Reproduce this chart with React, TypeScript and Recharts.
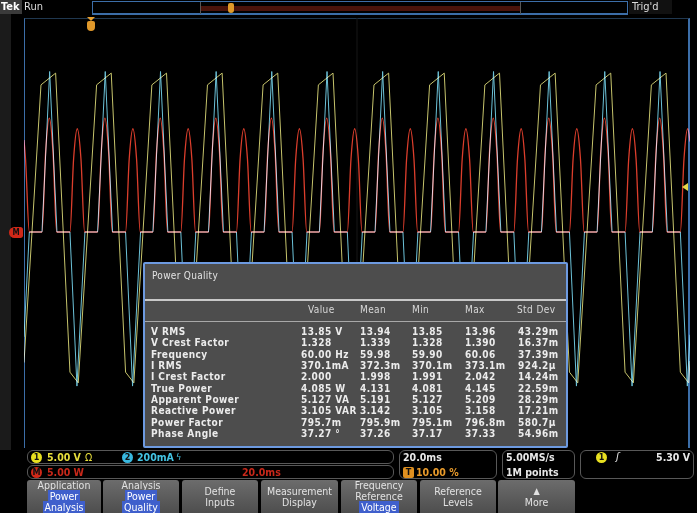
import React from 'react';
import { LineChart, Line, XAxis, YAxis, ReferenceLine } from 'recharts';

// time in ms from the left edge of the graticule (20 ms/div, 10 div), amplitude in divisions
const ch1Voltage = [
  { t: 0, v: -2.44 },
  { t: 5.1, v: 2.75 }, { t: 9.5, v: 2.97 }, { t: 13.8, v: -2.62 }, { t: 16.3, v: -2.82 },
  { t: 21.8, v: 2.75 }, { t: 26.2, v: 2.97 }, { t: 30.5, v: -2.62 }, { t: 33.0, v: -2.82 },
  { t: 38.4, v: 2.75 }, { t: 42.8, v: 2.97 }, { t: 47.1, v: -2.62 }, { t: 49.6, v: -2.82 },
  { t: 55.1, v: 2.75 }, { t: 59.5, v: 2.97 }, { t: 63.8, v: -2.62 }, { t: 66.3, v: -2.82 },
  { t: 71.8, v: 2.75 }, { t: 76.2, v: 2.97 }, { t: 80.5, v: -2.62 }, { t: 83.0, v: -2.82 },
  { t: 88.4, v: 2.75 }, { t: 92.8, v: 2.97 }, { t: 97.1, v: -2.62 }, { t: 99.6, v: -2.82 },
  { t: 105.1, v: 2.75 }, { t: 109.5, v: 2.97 }, { t: 113.8, v: -2.62 }, { t: 116.3, v: -2.82 },
  { t: 121.8, v: 2.75 }, { t: 126.2, v: 2.97 }, { t: 130.5, v: -2.62 }, { t: 133.0, v: -2.82 },
  { t: 138.4, v: 2.75 }, { t: 142.8, v: 2.97 }, { t: 147.1, v: -2.62 }, { t: 149.6, v: -2.82 },
  { t: 155.1, v: 2.75 }, { t: 159.5, v: 2.97 }, { t: 163.8, v: -2.62 }, { t: 166.3, v: -2.82 },
  { t: 171.8, v: 2.75 }, { t: 176.2, v: 2.97 }, { t: 180.5, v: -2.62 }, { t: 183.0, v: -2.82 },
  { t: 188.4, v: 2.75 }, { t: 192.8, v: 2.97 }, { t: 197.1, v: -2.62 }, { t: 199.6, v: -2.82 },
  { t: 200, v: -2.41 },
];

const ch2Current = [
  { t: 0, v: -1.96 }, { t: 1.6, v: 0 },
  { t: 5.4, v: 0 }, { t: 7.7, v: 3.0 }, { t: 9.9, v: 0 }, { t: 13.8, v: 0 }, { t: 15.9, v: -2.88 }, { t: 18.3, v: 0 },
  { t: 22.1, v: 0 }, { t: 24.4, v: 3.0 }, { t: 26.6, v: 0 }, { t: 30.5, v: 0 }, { t: 32.6, v: -2.88 }, { t: 35.0, v: 0 },
  { t: 38.7, v: 0 }, { t: 41.0, v: 3.0 }, { t: 43.2, v: 0 }, { t: 47.1, v: 0 }, { t: 49.2, v: -2.88 }, { t: 51.6, v: 0 },
  { t: 55.4, v: 0 }, { t: 57.7, v: 3.0 }, { t: 59.9, v: 0 }, { t: 63.8, v: 0 }, { t: 65.9, v: -2.88 }, { t: 68.3, v: 0 },
  { t: 72.1, v: 0 }, { t: 74.4, v: 3.0 }, { t: 76.6, v: 0 }, { t: 80.5, v: 0 }, { t: 82.6, v: -2.88 }, { t: 85.0, v: 0 },
  { t: 88.7, v: 0 }, { t: 91.0, v: 3.0 }, { t: 93.2, v: 0 }, { t: 97.1, v: 0 }, { t: 99.2, v: -2.88 }, { t: 101.6, v: 0 },
  { t: 105.4, v: 0 }, { t: 107.7, v: 3.0 }, { t: 109.9, v: 0 }, { t: 113.8, v: 0 }, { t: 115.9, v: -2.88 }, { t: 118.3, v: 0 },
  { t: 122.1, v: 0 }, { t: 124.4, v: 3.0 }, { t: 126.6, v: 0 }, { t: 130.5, v: 0 }, { t: 132.6, v: -2.88 }, { t: 135.0, v: 0 },
  { t: 138.7, v: 0 }, { t: 141.0, v: 3.0 }, { t: 143.2, v: 0 }, { t: 147.1, v: 0 }, { t: 149.2, v: -2.88 }, { t: 151.6, v: 0 },
  { t: 155.4, v: 0 }, { t: 157.7, v: 3.0 }, { t: 159.9, v: 0 }, { t: 163.8, v: 0 }, { t: 165.9, v: -2.88 }, { t: 168.3, v: 0 },
  { t: 172.1, v: 0 }, { t: 174.4, v: 3.0 }, { t: 176.6, v: 0 }, { t: 180.5, v: 0 }, { t: 182.6, v: -2.88 }, { t: 185.0, v: 0 },
  { t: 188.7, v: 0 }, { t: 191.0, v: 3.0 }, { t: 193.2, v: 0 }, { t: 197.1, v: 0 }, { t: 199.2, v: -2.88 }, { t: 200, v: -1.92 },
];

const mathPower = [
  { t: 0, v: 1.72 }, { t: 0.45, v: 1.37 }, { t: 1.6, v: 0 },
  { t: 5.4, v: 0 }, { t: 6.5, v: 1.5 }, { t: 7.6, v: 2.13 }, { t: 8.7, v: 1.5 }, { t: 9.8, v: 0 },
  { t: 13.8, v: 0 }, { t: 14.9, v: 1.37 }, { t: 16.0, v: 1.93 }, { t: 17.1, v: 1.37 }, { t: 18.2, v: 0 },
  { t: 22.1, v: 0 }, { t: 23.2, v: 1.5 }, { t: 24.3, v: 2.13 }, { t: 25.4, v: 1.5 }, { t: 26.5, v: 0 },
  { t: 30.5, v: 0 }, { t: 31.6, v: 1.37 }, { t: 32.7, v: 1.93 }, { t: 33.8, v: 1.37 }, { t: 34.9, v: 0 },
  { t: 38.7, v: 0 }, { t: 39.8, v: 1.5 }, { t: 40.9, v: 2.13 }, { t: 42.0, v: 1.5 }, { t: 43.1, v: 0 },
  { t: 47.1, v: 0 }, { t: 48.2, v: 1.37 }, { t: 49.3, v: 1.93 }, { t: 50.4, v: 1.37 }, { t: 51.5, v: 0 },
  { t: 55.4, v: 0 }, { t: 56.5, v: 1.5 }, { t: 57.6, v: 2.13 }, { t: 58.7, v: 1.5 }, { t: 59.8, v: 0 },
  { t: 63.8, v: 0 }, { t: 64.9, v: 1.37 }, { t: 66.0, v: 1.93 }, { t: 67.1, v: 1.37 }, { t: 68.2, v: 0 },
  { t: 72.1, v: 0 }, { t: 73.2, v: 1.5 }, { t: 74.3, v: 2.13 }, { t: 75.4, v: 1.5 }, { t: 76.5, v: 0 },
  { t: 80.5, v: 0 }, { t: 81.6, v: 1.37 }, { t: 82.7, v: 1.93 }, { t: 83.8, v: 1.37 }, { t: 84.9, v: 0 },
  { t: 88.7, v: 0 }, { t: 89.8, v: 1.5 }, { t: 90.9, v: 2.13 }, { t: 92.0, v: 1.5 }, { t: 93.1, v: 0 },
  { t: 97.1, v: 0 }, { t: 98.2, v: 1.37 }, { t: 99.3, v: 1.93 }, { t: 100.4, v: 1.37 }, { t: 101.5, v: 0 },
  { t: 105.4, v: 0 }, { t: 106.5, v: 1.5 }, { t: 107.6, v: 2.13 }, { t: 108.7, v: 1.5 }, { t: 109.8, v: 0 },
  { t: 113.8, v: 0 }, { t: 114.9, v: 1.37 }, { t: 116.0, v: 1.93 }, { t: 117.1, v: 1.37 }, { t: 118.2, v: 0 },
  { t: 122.1, v: 0 }, { t: 123.2, v: 1.5 }, { t: 124.3, v: 2.13 }, { t: 125.4, v: 1.5 }, { t: 126.5, v: 0 },
  { t: 130.5, v: 0 }, { t: 131.6, v: 1.37 }, { t: 132.7, v: 1.93 }, { t: 133.8, v: 1.37 }, { t: 134.9, v: 0 },
  { t: 138.7, v: 0 }, { t: 139.8, v: 1.5 }, { t: 140.9, v: 2.13 }, { t: 142.0, v: 1.5 }, { t: 143.1, v: 0 },
  { t: 147.1, v: 0 }, { t: 148.2, v: 1.37 }, { t: 149.3, v: 1.93 }, { t: 150.4, v: 1.37 }, { t: 151.5, v: 0 },
  { t: 155.4, v: 0 }, { t: 156.5, v: 1.5 }, { t: 157.6, v: 2.13 }, { t: 158.7, v: 1.5 }, { t: 159.8, v: 0 },
  { t: 163.8, v: 0 }, { t: 164.9, v: 1.37 }, { t: 166.0, v: 1.93 }, { t: 167.1, v: 1.37 }, { t: 168.2, v: 0 },
  { t: 172.1, v: 0 }, { t: 173.2, v: 1.5 }, { t: 174.3, v: 2.13 }, { t: 175.4, v: 1.5 }, { t: 176.5, v: 0 },
  { t: 180.5, v: 0 }, { t: 181.6, v: 1.37 }, { t: 182.7, v: 1.93 }, { t: 183.8, v: 1.37 }, { t: 184.9, v: 0 },
  { t: 188.7, v: 0 }, { t: 189.8, v: 1.5 }, { t: 190.9, v: 2.13 }, { t: 192.0, v: 1.5 }, { t: 193.1, v: 0 },
  { t: 197.1, v: 0 }, { t: 198.2, v: 1.37 }, { t: 199.3, v: 1.93 }, { t: 200, v: 1.69 },
];

const tableTitle = 'Power Quality';
const columnHeaders = ['Value', 'Mean', 'Min', 'Max', 'Std Dev'];
const measurementNames = ['V RMS', 'V Crest Factor', 'Frequency', 'I RMS', 'I Crest Factor', 'True Power', 'Apparent Power', 'Reactive Power', 'Power Factor', 'Phase Angle'];
const valueColumn = ['13.85 V', '1.328', '60.00 Hz', '370.1mA', '2.000', '4.085 W', '5.127 VA', '3.105 VAR', '795.7m', '37.27 °'];
const meanColumn = ['13.94', '1.339', '59.98', '372.3m', '1.998', '4.131', '5.191', '3.142', '795.9m', '37.26'];
const minColumn = ['13.85', '1.328', '59.90', '370.1m', '1.991', '4.081', '5.127', '3.105', '795.1m', '37.17'];
const maxColumn = ['13.96', '1.390', '60.06', '373.1m', '2.042', '4.145', '5.209', '3.158', '796.8m', '37.33'];
const stdDevColumn = ['43.29m', '16.37m', '37.39m', '924.2µ', '14.24m', '22.59m', '28.29m', '17.21m', '580.7µ', '54.96m'];

const buttonTitles = ['Application', 'Analysis', 'Define', 'Measurement', 'Frequency', 'Reference', ''];
const buttonSubtitles = [['Power', 'Analysis'], ['Power', 'Quality'], ['Inputs'], ['Display'], ['Reference', 'Voltage'], ['Levels'], ['More']];
const buttonHighlights = [[true, true], [true, true], [false], [false], [false, true], [false], [false]];

const FONT = '"DejaVu Sans Condensed", "DejaVu Sans", sans-serif';

const abs = (x: number, y: number, extra: React.CSSProperties = {}): React.CSSProperties => ({
  position: 'absolute', left: x, top: y, whiteSpace: 'nowrap', ...extra,
});

function Badge({ x, y, color, text, textColor = '#111', square = false }: any) {
  return (
    <div style={abs(x, y, {
      width: 11, height: 11, borderRadius: square ? 2 : 6, background: color, color: textColor,
      fontSize: 9, fontWeight: 700, lineHeight: '11px', textAlign: 'center',
    })}>{text}</div>
  );
}

export default function App() {
  const rowTop = 326;
  const rowStep = 11.35;
  const cols = [301, 360, 412, 465, 518];
  const headerCols = [308, 360, 412, 465, 517];
  const dataCols = [valueColumn, meanColumn, minColumn, maxColumn, stdDevColumn];
  const btnX = [27, 103, 182, 261, 341, 420, 498];
  const btnW = [74, 76, 76, 77, 76, 76, 77];
  const cell: React.CSSProperties = { color: '#ececec', fontSize: 10, fontWeight: 700, lineHeight: '11px', letterSpacing: 0.45 };

  return (
    <div style={{ position: 'fixed', left: 0, top: 0, width: 697, height: 513, background: '#000', overflow: 'hidden', fontFamily: FONT }}>
      <style>{'body{margin:0;background:#000} .trace path{mix-blend-mode:screen}'}</style>
      {/* left strip */}
      <div style={abs(0, 14, { width: 11, height: 436, background: '#1b1b1b' })} />
      {/* graticule frame */}
      <div style={abs(24, 18, { width: 666, height: 430, borderLeft: '1px solid #3c6ea8', borderRight: '2px solid #3c6ea8', borderTop: '1px solid #203850', boxSizing: 'border-box' })} />

      <div style={abs(0, 0)}>
        <LineChart width={697} height={513} data={ch1Voltage} margin={{ top: 18, right: 7, bottom: 67, left: 24 }}>
          <XAxis dataKey="t" type="number" domain={[0, 200]} hide allowDataOverflow />
          <YAxis type="number" domain={[-4, 4]} hide allowDataOverflow />
          <ReferenceLine x={100} stroke="#161616" strokeWidth={1} />
          <Line className="trace" data={ch1Voltage} dataKey="v" type="linear" stroke="#c6c46c" strokeWidth={1} dot={false} isAnimationActive={false} />
          <Line className="trace" data={ch2Current} dataKey="v" type="linear" stroke="#6cc2d8" strokeWidth={1} dot={false} isAnimationActive={false} />
          <Line className="trace" data={mathPower} dataKey="v" type="monotone" stroke="#dc3e2c" strokeWidth={1.3} dot={false} isAnimationActive={false} />
        </LineChart>
      </div>

      {/* top bar */}
      <div style={abs(0, 0, { width: 22, height: 14, background: '#3a3a3a' })} />
      <div style={abs(1, 0, { color: '#fff', fontSize: 11, fontWeight: 700, lineHeight: '13px' })}>Tek</div>
      <div style={abs(24, 0, { color: '#ddd', fontSize: 11, lineHeight: '13px' })}>Run</div>
      <div style={abs(92, 1, { width: 536, height: 14, border: '1px solid #3c6ea8', borderBottomWidth: 2, boxSizing: 'border-box', background: '#000' })} />
      <div style={abs(200, 6, { width: 320, height: 5, background: '#4a130a' })} />
      <div style={abs(200, 2, { width: 1, height: 12, background: '#555' })} />
      <div style={abs(520, 2, { width: 1, height: 12, background: '#555' })} />
      <div style={abs(228, 3, { width: 6, height: 10, background: '#e09a28', borderRadius: '2px 2px 3px 3px' })} />
      <div style={abs(629, 0, { width: 40, height: 14, background: '#111', color: '#ddd', fontSize: 11, lineHeight: '13px', paddingLeft: 3 })}>Trig'd</div>
      {/* trigger position marker */}
      <div style={abs(87, 17, { width: 0, height: 0, borderLeft: '4px solid transparent', borderRight: '4px solid transparent', borderTop: '4px solid #e8a030' })} />
      <div style={abs(87, 21, { width: 8, height: 10, background: '#e0982a', borderRadius: '2px 2px 4px 4px' })} />

      {/* M ground marker */}
      <div style={abs(9, 227, { width: 14, height: 11, background: '#d02818', borderRadius: '6px 3px 3px 6px', color: '#111', fontSize: 8, fontWeight: 700, lineHeight: '11px', textAlign: 'center' })}>M</div>
      {/* trigger level arrow */}
      <div style={abs(682, 183, { width: 0, height: 0, borderTop: '4px solid transparent', borderBottom: '4px solid transparent', borderRight: '6px solid #e8d84a' })} />

      {/* Power Quality table */}
      <div style={abs(143, 262, { width: 425, height: 186, background: '#4d4d4d', border: '2px solid #6d9ae0', boxSizing: 'border-box', borderRadius: 2 })} />
      <div style={abs(152, 270, { color: '#e2e2e2', fontSize: 10, lineHeight: '12px', letterSpacing: 0.3 })}>{tableTitle}</div>
      <div style={abs(145, 299, { width: 421, height: 2, background: '#c8c8c8' })} />
      <div style={abs(145, 321, { width: 421, height: 1, background: '#a8a8a8' })} />
      {columnHeaders.map((h, i) => (
        <div key={h} style={abs(headerCols[i], 304, { color: '#d8d8d8', fontSize: 10, lineHeight: '12px', letterSpacing: 0.4 })}>{h}</div>
      ))}
      {measurementNames.map((name, r) => (
        <React.Fragment key={name}>
          <div style={abs(151, rowTop + r * rowStep, cell)}>{name}</div>
          {dataCols.map((col, c) => (
            <div key={c} style={abs(cols[c], rowTop + r * rowStep, cell)}>{col[r]}</div>
          ))}
        </React.Fragment>
      ))}

      {/* status area: channel readouts */}
      <div style={abs(27, 450, { width: 367, height: 14, border: '1px solid #585858', borderRadius: 6, boxSizing: 'border-box' })} />
      <div style={abs(27, 465, { width: 367, height: 14, border: '1px solid #585858', borderRadius: 6, boxSizing: 'border-box' })} />
      <Badge x={31} y={451.5} color="#e8e020" text="1" />
      <div style={abs(47, 451, { color: '#e8df3c', fontSize: 10.5, fontWeight: 700, lineHeight: '12px' })}>5.00 V</div>
      <div style={abs(85, 451, { color: '#e8df3c', fontSize: 10.5, lineHeight: '12px' })}>Ω</div>
      <Badge x={122} y={451.5} color="#38b8e0" text="2" />
      <div style={abs(137, 451, { color: '#44c4e4', fontSize: 10.5, fontWeight: 700, lineHeight: '12px' })}>200mA</div>
      <div style={abs(176, 451, { color: '#44c4e4', fontSize: 9, lineHeight: '12px' })}>ϟ</div>
      <Badge x={31} y={466.5} color="#d02818" text="M" />
      <div style={abs(47, 466, { color: '#c8281a', fontSize: 10.5, fontWeight: 700, lineHeight: '12px' })}>5.00 W</div>
      <div style={abs(242, 466, { color: '#c8281a', fontSize: 10.5, fontWeight: 700, lineHeight: '12px' })}>20.0ms</div>

      {/* timebase */}
      <div style={abs(399, 450, { width: 98, height: 29, border: '1px solid #585858', borderRadius: 6, boxSizing: 'border-box' })} />
      <div style={abs(403, 451, { color: '#e8e8e8', fontSize: 10.5, fontWeight: 700, lineHeight: '12px' })}>20.0ms</div>
      <Badge x={403} y={466.5} color="#e09020" text="T" square />
      <div style={abs(416, 466, { color: '#e89a2a', fontSize: 10.5, fontWeight: 700, lineHeight: '12px' })}>10.00 %</div>
      {/* acquisition */}
      <div style={abs(502, 450, { width: 73, height: 29, border: '1px solid #585858', borderRadius: 6, boxSizing: 'border-box' })} />
      <div style={abs(506, 451, { color: '#e8e8e8', fontSize: 10.5, fontWeight: 700, lineHeight: '12px' })}>5.00MS/s</div>
      <div style={abs(506, 466, { color: '#e8e8e8', fontSize: 10.5, fontWeight: 700, lineHeight: '12px' })}>1M points</div>
      {/* trigger */}
      <div style={abs(580, 450, { width: 114, height: 29, border: '1px solid #585858', borderRadius: 6, boxSizing: 'border-box' })} />
      <Badge x={596} y={451.5} color="#e8e020" text="1" />
      <div style={abs(616, 450, { color: '#e8e8e8', fontSize: 11, fontStyle: 'italic', lineHeight: '13px' })}>ʃ</div>
      <div style={abs(640, 451, { width: 50, textAlign: 'right', color: '#e8e8e8', fontSize: 10.5, fontWeight: 700, lineHeight: '12px' })}>5.30 V</div>

      {/* soft buttons */}
      {btnX.map((x, i) => {
        const lines = buttonSubtitles[i];
        const hasTitle = buttonTitles[i] !== '';
        const total = (hasTitle ? 1 : 0) + lines.length + (i === 6 ? 1 : 0);
        const startY = total === 3 ? 480 : 486;
        return (
          <div key={i} style={abs(x, 480, { width: btnW[i], height: 33, background: 'linear-gradient(#6c6c6c, #4e4e4e)', borderRadius: '3px 3px 0 0' })}>
            <div style={{ position: 'absolute', left: 0, top: startY - 480, width: '100%', textAlign: 'center', fontSize: 10.5, lineHeight: '11px', color: '#e2e2e2' }}>
              {hasTitle && <div>{buttonTitles[i]}</div>}
              {i === 6 && <div style={{ fontSize: 9, lineHeight: '11px' }}>▲</div>}
              {lines.map((l, j) => (
                <div key={j}>
                  <span style={buttonHighlights[i][j] ? { background: '#3f5fcc', color: '#fff', padding: '0 2px' } : {}}>{l}</span>
                </div>
              ))}
            </div>
          </div>
        );
      })}
    </div>
  );
}
